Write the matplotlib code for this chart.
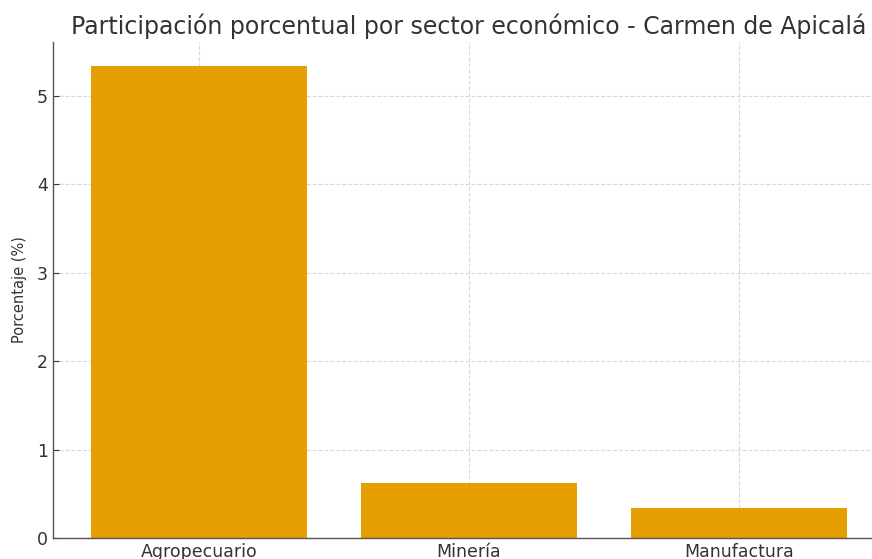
import matplotlib
matplotlib.use("Agg")
import matplotlib.pyplot as plt

# datos
sectores = ["Agropecuario", "Minería", "Manufactura"]
porcentajes = [5.34, 0.62, 0.34]

titulo = "Participación porcentual por sector económico - Carmen de Apicalá"
ylabel = "Porcentaje (%)"

plt.rcParams["font.family"] = ["DejaVu Sans"]

fig = plt.figure(figsize=(8.72, 5.59), dpi=100)
# el eje se sale por la derecha, igual que en la imagen recortada
ax = fig.add_axes([53 / 872, 21 / 559, 832 / 872, 496 / 559])

ax.bar(sectores, porcentajes, width=0.8, color="#E69F00", zorder=2)

ax.set_title(titulo, fontsize=17, color="#333333", pad=6)
ax.set_ylabel(ylabel, fontsize=10.5, color="#333333", labelpad=7)

ax.grid(True, linestyle="--", color="#d9d9d9", linewidth=0.8, zorder=0)
ax.set_axisbelow(True)

for s in ["top", "right"]:
    ax.spines[s].set_visible(False)
for s in ["left", "bottom"]:
    ax.spines[s].set_color("#555555")
    ax.spines[s].set_linewidth(1.0)

ax.tick_params(axis="both", direction="in", labelsize=12.5, colors="#333333", length=4)
ax.set_yticks([0, 1, 2, 3, 4, 5])

fig.savefig("out.png", dpi=100)
